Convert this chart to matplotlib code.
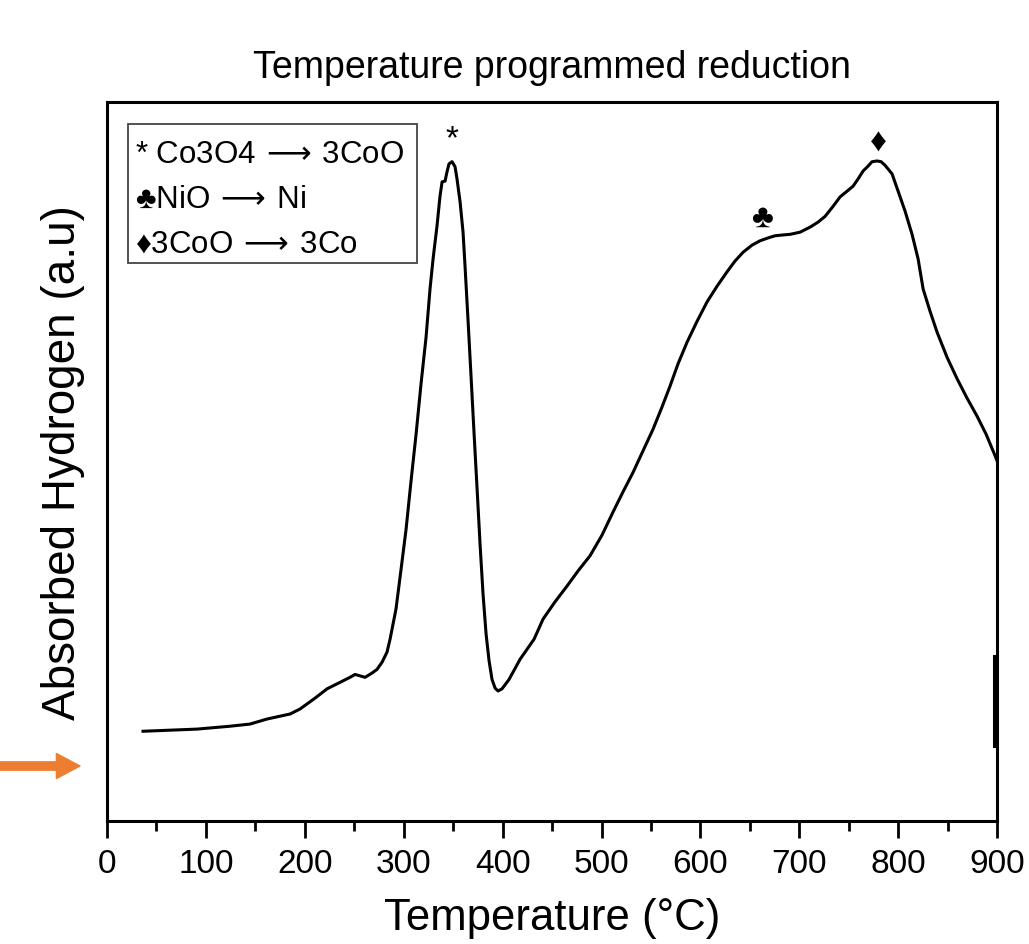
import matplotlib
matplotlib.use("Agg")
import matplotlib.pyplot as plt
from matplotlib.patches import Rectangle
from matplotlib.ticker import MultipleLocator

plt.rcParams['font.family'] = ['Liberation Sans', 'DejaVu Sans']

# TPR trace (temperature in degC, signal in a.u.)
temp = [36.4, 91.0, 124.4, 144.6, 161.8, 185.1, 195.2, 210.3, 222.5, 235.6,
        245.7, 250.8, 260.9, 268.0, 273.0, 278.1, 283.1, 286.2, 292.2, 297.3,
        302.4, 307.4, 312.5, 317.5, 322.6, 326.6, 329.7, 333.7, 336.7, 338.8,
        341.8, 343.8, 345.8, 348.9, 351.9, 353.9, 357.0, 360.0, 362.0, 365.1,
        368.1, 371.1, 374.2, 377.2, 380.2, 383.3, 386.3, 389.3, 392.4, 395.4,
        399.4, 406.5, 417.6, 431.8, 440.9, 453.0, 465.2, 476.3, 488.4, 500.6,
        511.7, 521.8, 531.9, 542.0, 552.1, 561.2, 569.3, 577.4, 586.5, 596.6,
        606.7, 616.9, 627.0, 635.1, 643.1, 652.2, 660.3, 668.4, 675.5, 682.6,
        690.7, 700.8, 710.9, 719.0, 726.1, 734.2, 741.2, 748.3, 754.4, 759.4,
        764.5, 769.6, 773.6, 778.7, 782.7, 786.7, 793.8, 799.9, 807.0, 814.0,
        820.1, 825.2, 832.2, 839.3, 849.4, 859.6, 869.7, 879.8, 888.9, 898.0,
        900.0]
signal = [12.5, 12.8, 13.2, 13.5, 14.2, 14.9, 15.6, 17.1, 18.4, 19.3,
          20.0, 20.4, 20.0, 20.6, 21.1, 22.1, 23.5, 25.3, 29.5, 35.0,
          40.6, 47.3, 53.8, 60.8, 67.3, 74.0, 78.2, 82.8, 86.9, 88.9,
          89.0, 90.3, 91.4, 91.7, 91.0, 89.3, 86.1, 81.9, 77.2, 69.5,
          61.8, 54.0, 46.2, 38.5, 31.6, 26.0, 22.3, 19.7, 18.5, 18.1,
          18.4, 19.7, 22.5, 25.3, 28.1, 30.5, 32.7, 34.8, 36.9, 39.8,
          43.0, 45.8, 48.5, 51.5, 54.5, 57.6, 60.5, 63.6, 66.6, 69.5,
          72.2, 74.4, 76.4, 77.9, 79.1, 80.1, 80.7, 81.1, 81.4, 81.5,
          81.6, 81.9, 82.6, 83.3, 84.1, 85.5, 86.8, 87.6, 88.3, 89.3,
          90.4, 91.1, 91.7, 91.8, 91.7, 91.2, 90.0, 87.6, 84.8, 81.6,
          78.2, 74.0, 70.9, 68.0, 64.5, 61.5, 58.8, 56.3, 53.8, 50.8,
          50.1]

# short vertical artefact at the end of the run
end_temp = [897.0, 897.0]
end_signal = [10.4, 22.9]

arrow = r'$\,\longrightarrow\,$'
legend_lines = ['* Co3O4' + arrow + '3CoO',
                '\u2663NiO' + arrow + 'Ni',
                '\u26663CoO' + arrow + '3Co']
peak_marks = [('*', 348.9, 94.9), ('\u2663', 662.4, 84.0), ('\u2666', 779.7, 94.4)]

fig = plt.figure(figsize=(10.29, 9.45), dpi=100)
ax = fig.add_axes([0.104, 0.130, 0.865, 0.761])

ax.plot(temp, signal, color='black', lw=2.2, solid_joinstyle='round')
ax.plot(end_temp, end_signal, color='black', lw=2.2)

ax.set_xlim(0, 900)
ax.set_ylim(0, 100)
ax.xaxis.set_major_locator(MultipleLocator(100))
ax.xaxis.set_minor_locator(MultipleLocator(50))
ax.tick_params(axis='x', which='major', direction='out', length=12, width=2,
               labelsize=24, pad=7)
ax.tick_params(axis='x', which='minor', direction='out', length=7, width=2)
ax.set_yticks([])
for s in ax.spines.values():
    s.set_linewidth(2.2)

ax.set_xlabel('Temperature (\u00b0C)', fontsize=31.5, labelpad=13)
ax.set_ylabel('Absorbed Hydrogen (a.u)', fontsize=33, labelpad=16)
ax.set_title('Temperature programmed reduction', fontsize=27, pad=18)

for sym, x, y in peak_marks:
    ax.text(x, y, sym, fontsize=24, ha='center', va='center')

# legend box drawn by hand
ax.add_patch(Rectangle((0.024, 0.776), 0.324, 0.193, transform=ax.transAxes,
                       fill=False, edgecolor='#444444', lw=1.3))
for i, line in enumerate(legend_lines):
    ax.text(0.031, 0.928 - i * 0.0625, line, transform=ax.transAxes,
            fontsize=22.5, ha='left', va='center')

# orange arrow pointing at the baseline
ax.annotate('', xy=(80, 178), xytext=(0, 178), xycoords='figure pixels',
            textcoords='figure pixels',
            arrowprops=dict(arrowstyle='simple,head_length=1.7,head_width=1.8,tail_width=0.6',
                            mutation_scale=10, color='#ED7D31',
                            shrinkA=0, shrinkB=0))

fig.savefig('out.png', dpi=100)
